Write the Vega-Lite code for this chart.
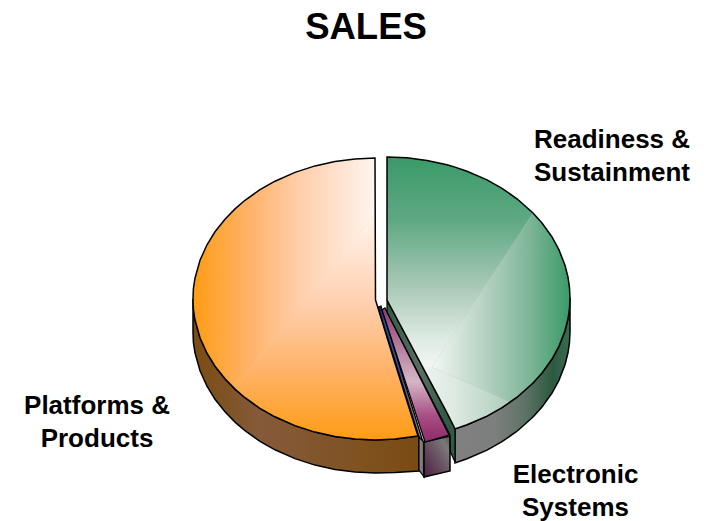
{
  "$schema": "https://vega.github.io/schema/vega-lite/v6.json",
  "width": 712,
  "height": 521,
  "padding": 0,
  "autosize": {"type": "none"},
  "background": "white",
  "config": {"view": {"stroke": null}},
  "title": {"text": "SALES", "font": "Liberation Sans", "fontSize": 36.5, "fontWeight": "bold", "color": "black", "anchor": "middle", "dx": 10, "offset": -75, "baseline": "alphabetic"},
  "datasets": {
    "platformsTop": [
      {"x":193,"y":299,"y2":299},{"x":193.4,"y":288.6,"y2":309.4},{"x":195,"y":278.2,"y2":319.8},{"x":200,"y":260.3,"y2":337.7},{"x":207,"y":244.8,"y2":353.2},{"x":215,"y":231.8,"y2":366.2},{"x":225,"y":219.2,"y2":378.8},{"x":235,"y":208.9,"y2":389.1},{"x":245,"y":200.3,"y2":397.7},{"x":260,"y":189.7,"y2":408.3},{"x":275,"y":181.2,"y2":416.8},{"x":295,"y":172.4,"y2":425.6},{"x":315,"y":165.9,"y2":432.1},{"x":335,"y":161.4,"y2":436.6},{"x":355,"y":158.9,"y2":439.1},{"x":375,"y":158,"y2":440},{"x":375.5,"y":300,"y2":440},{"x":395,"y":363.2,"y2":439.1},{"x":418,"y":436,"y2":436}
    ],
    "readinessTop": [
      {"x":387,"y":157,"y2":300},{"x":407,"y":157.8,"y2":337.6},{"x":427,"y":160.4,"y2":375.3},{"x":447,"y":164.8,"y2":412.9},{"x":455,"y":167.1,"y2":428.9},{"x":467,"y":171.2,"y2":424.8},{"x":487,"y":179.9,"y2":416.1},{"x":502,"y":188.3,"y2":407.7},{"x":517,"y":198.8,"y2":397.2},{"x":533,"y":213,"y2":383},{"x":542,"y":223,"y2":373},{"x":552,"y":237,"y2":359},{"x":559,"y":249.9,"y2":346.1},{"x":565,"y":265.3,"y2":330.7},{"x":568,"y":277.2,"y2":318.8},{"x":569.5,"y":287.6,"y2":308.4},{"x":570,"y":298,"y2":298}
    ]
  },
  "encoding": {
    "x": {"field": "x", "type": "quantitative", "scale": {"domain": [0, 712], "nice": false, "zero": false}, "axis": null},
    "y": {"field": "y", "type": "quantitative", "scale": {"domain": [0, 521], "reverse": true, "nice": false, "zero": false}, "axis": null}
  },
  "layer": [
    {
      "data": {"values": [
        {"x":193,"y":299,"y2":332},{"x":193.4,"y":309.4,"y2":342.4},{"x":195,"y":319.8,"y2":352.8},{"x":200,"y":337.7,"y2":370.7},{"x":207,"y":353.2,"y2":386.2},{"x":215,"y":366.2,"y2":399.2},{"x":225,"y":378.8,"y2":411.8},{"x":235,"y":389.1,"y2":422.1},{"x":245,"y":397.7,"y2":430.7},{"x":260,"y":408.3,"y2":441.3},{"x":275,"y":416.8,"y2":449.8},{"x":295,"y":425.6,"y2":458.6},{"x":315,"y":432.1,"y2":465.1},{"x":335,"y":436.6,"y2":469.6},{"x":355,"y":439.1,"y2":472.1},{"x":375,"y":440,"y2":473},{"x":395,"y":439.1,"y2":472.6},{"x":419,"y":436,"y2":471}
      ]},
      "mark": {"type": "area", "orient": "vertical", "stroke": "black", "strokeWidth": 1.5,
        "color": {"gradient": "linear", "x1": 0, "y1": 0, "x2": 1, "y2": 0, "stops": [
          {"offset": 0, "color": "#7b4c12"}, {"offset": 0.3, "color": "#855a3a"}, {"offset": 0.75, "color": "#7f5220"}, {"offset": 1, "color": "#7a4a12"}]}},
      "encoding": {"y2": {"field": "y2"}}
    },
    {
      "data": {"name": "platformsTop"},
      "mark": {"type": "area", "orient": "vertical", "color": "#ffc99c"},
      "encoding": {"y2": {"field": "y2"}}
    },
    {
      "data": {"values": [
        {"x":193,"y":299,"y2":299},{"x":193.4,"y":288.6,"y2":309.4},{"x":195,"y":278.2,"y2":319.8},{"x":200,"y":260.3,"y2":337.7},{"x":207,"y":244.8,"y2":353.2},{"x":215,"y":231.8,"y2":366.2},{"x":225,"y":219.2,"y2":378.8},{"x":235,"y":208.9,"y2":388.5},{"x":245,"y":200.3,"y2":375.4},{"x":260,"y":189.7,"y2":356.7},{"x":275,"y":181.2,"y2":338.1},{"x":295,"y":172.4,"y2":313.3},{"x":315,"y":165.9,"y2":288.4},{"x":335,"y":161.4,"y2":263.6},{"x":355,"y":158.9,"y2":238.7},{"x":375,"y":158,"y2":214}
      ]},
      "mark": {"type": "area", "orient": "vertical",
        "color": {"gradient": "linear", "x1": 0, "y1": 0, "x2": 1, "y2": 0, "stops": [
          {"offset": 0, "color": "#ff9c14"}, {"offset": 0.3, "color": "#ffb266"}, {"offset": 0.6, "color": "#ffcfae"}, {"offset": 1, "color": "#fff5ee"}]}},
      "encoding": {"y2": {"field": "y2"}}
    },
    {
      "data": {"values": [
        {"x":235,"y":388.5,"y2":389.1},{"x":245,"y":375.4,"y2":397.7},{"x":260,"y":356.7,"y2":408.3},{"x":275,"y":338.1,"y2":416.8},{"x":295,"y":313.3,"y2":425.6},{"x":315,"y":288.4,"y2":432.1},{"x":335,"y":263.6,"y2":436.6},{"x":355,"y":238.7,"y2":439.1},{"x":375,"y":214,"y2":440},{"x":375.5,"y":300,"y2":440},{"x":395,"y":363.2,"y2":439.1},{"x":418,"y":436,"y2":436}
      ]},
      "mark": {"type": "area", "orient": "vertical",
        "color": {"gradient": "linear", "x1": 0, "y1": 0, "x2": 0, "y2": 1, "stops": [
          {"offset": 0, "color": "#fff5ee"}, {"offset": 0.4, "color": "#ffcfae"}, {"offset": 0.7, "color": "#ffb266"}, {"offset": 1, "color": "#ff9c14"}]}},
      "encoding": {"y2": {"field": "y2"}}
    },
    {
      "data": {"name": "platformsTop"},
      "mark": {"type": "area", "orient": "vertical", "fillOpacity": 0, "stroke": "black", "strokeWidth": 1.5},
      "encoding": {"y2": {"field": "y2"}}
    },
    {
      "data": {"values": [
        {"x":378,"y":307,"y2":307},{"x":381,"y":306,"y2":316.5},{"x":419,"y":429,"y2":437},{"x":423,"y":442,"y2":442}
      ]},
      "mark": {"type": "area", "orient": "vertical", "stroke": "black", "strokeWidth": 1.2,
        "color": {"gradient": "linear", "x1": 0, "y1": 0, "x2": 0, "y2": 1, "stops": [
          {"offset": 0, "color": "#1a1a50"}, {"offset": 0.12, "color": "#2a4a9a"}, {"offset": 0.5, "color": "#3a4f9a"}, {"offset": 0.7, "color": "#6a6a80"}, {"offset": 1, "color": "#808080"}]}},
      "encoding": {"y2": {"field": "y2"}}
    },
    {
      "data": {"values": [
        {"x":419,"y":437,"y2":470},{"x":424,"y":442,"y2":477}
      ]},
      "mark": {"type": "area", "orient": "vertical", "stroke": "black", "strokeWidth": 1.2,
        "color": {"gradient": "linear", "x1": 0, "y1": 0, "x2": 1, "y2": 0, "stops": [
          {"offset": 0, "color": "#8c8c8c"}, {"offset": 1, "color": "#6a6a6a"}]}},
      "encoding": {"y2": {"field": "y2"}}
    },
    {
      "data": {"values": [
        {"x":424,"y":442,"y2":477},{"x":450,"y":436,"y2":471}
      ]},
      "mark": {"type": "area", "orient": "vertical", "stroke": "black", "strokeWidth": 1.5,
        "color": {"gradient": "linear", "x1": 0, "y1": 1, "x2": 1, "y2": 0, "stops": [
          {"offset": 0, "color": "#4a1f42"}, {"offset": 0.55, "color": "#6e5a68"}, {"offset": 0.8, "color": "#7a7a7a"}, {"offset": 1, "color": "#5f525c"}]}},
      "encoding": {"y2": {"field": "y2"}}
    },
    {
      "data": {"values": [
        {"x":382,"y":310,"y2":310},{"x":385,"y":308,"y2":319},{"x":425,"y":387.4,"y2":442},{"x":449,"y":435,"y2":435}
      ]},
      "mark": {"type": "area", "orient": "vertical", "stroke": "black", "strokeWidth": 1.2,
        "color": {"gradient": "linear", "x1": 0, "y1": 0, "x2": 0, "y2": 1, "stops": [
          {"offset": 0, "color": "#8f3a70"}, {"offset": 0.2, "color": "#a96a90"}, {"offset": 0.55, "color": "#d4b6c6"}, {"offset": 0.8, "color": "#a84f86"}, {"offset": 1, "color": "#8f2a68"}]}},
      "encoding": {"y2": {"field": "y2"}}
    },
    {
      "data": {"values": [
        {"x":455,"y":428.9,"y2":462.9},{"x":467,"y":424.8,"y2":458.8},{"x":487,"y":416.1,"y2":450.1},{"x":502,"y":407.7,"y2":441.7},{"x":517,"y":397.2,"y2":431.2},{"x":533,"y":383,"y2":417},{"x":542,"y":373,"y2":407},{"x":552,"y":359,"y2":393},{"x":559,"y":346.1,"y2":380.1},{"x":565,"y":330.7,"y2":364.7},{"x":568,"y":318.8,"y2":352.8},{"x":569.5,"y":308.4,"y2":342.4},{"x":570,"y":298,"y2":332}
      ]},
      "mark": {"type": "area", "orient": "vertical", "stroke": "black", "strokeWidth": 1.5,
        "color": {"gradient": "linear", "x1": 0, "y1": 0, "x2": 1, "y2": 0, "stops": [
          {"offset": 0, "color": "#808080"}, {"offset": 0.35, "color": "#7c7f7d"}, {"offset": 0.6, "color": "#5f7368"}, {"offset": 0.85, "color": "#2c5a40"}, {"offset": 1, "color": "#3a6c50"}]}},
      "encoding": {"y2": {"field": "y2"}}
    },
    {
      "data": {"values": [
        {"x":387,"y":300,"y2":312},{"x":450,"y":418.6,"y2":435},{"x":450.5,"y":419.5,"y2":452},{"x":455,"y":428,"y2":462}
      ]},
      "mark": {"type": "area", "orient": "vertical", "stroke": "black", "strokeWidth": 1.2,
        "color": {"gradient": "linear", "x1": 0, "y1": 0, "x2": 1, "y2": 0, "stops": [
          {"offset": 0, "color": "#2f5c44"}, {"offset": 0.5, "color": "#5a6e62"}, {"offset": 0.85, "color": "#2f5c44"}, {"offset": 1, "color": "#2f5c44"}]}},
      "encoding": {"y2": {"field": "y2"}}
    },
    {
      "data": {"name": "readinessTop"},
      "mark": {"type": "area", "orient": "vertical", "color": "#a5c7b3"},
      "encoding": {"y2": {"field": "y2"}}
    },
    {
      "data": {"values": [
        {"x":387,"y":157,"y2":300},{"x":407,"y":157.8,"y2":337.6},{"x":422.6,"y":159.8,"y2":367},{"x":427,"y":160.4,"y2":367},{"x":432,"y":161.3,"y2":367},{"x":447,"y":164.8,"y2":344.1},{"x":467,"y":171.2,"y2":313.6},{"x":487,"y":179.9,"y2":283.1},{"x":502,"y":188.3,"y2":260.3},{"x":517,"y":198.8,"y2":237.4},{"x":533,"y":213,"y2":213}
      ]},
      "mark": {"type": "area", "orient": "vertical",
        "color": {"gradient": "linear", "x1": 0, "y1": 0, "x2": 0, "y2": 1, "stops": [
          {"offset": 0, "color": "#3a9a68"}, {"offset": 0.3, "color": "#5fa884"}, {"offset": 0.6, "color": "#a5c7b3"}, {"offset": 0.85, "color": "#dbe8e0"}, {"offset": 1, "color": "#f2f7f4"}]}},
      "encoding": {"y2": {"field": "y2"}}
    },
    {
      "data": {"values": [
        {"x":432,"y":367,"y2":367},{"x":447,"y":344.1,"y2":373.8},{"x":467,"y":313.6,"y2":382.8},{"x":487,"y":283.1,"y2":391.8},{"x":502,"y":260.3,"y2":398.5},{"x":510,"y":248.1,"y2":402.4},{"x":517,"y":237.4,"y2":397.2},{"x":533,"y":213,"y2":383},{"x":542,"y":223,"y2":373},{"x":552,"y":237,"y2":359},{"x":559,"y":249.9,"y2":346.1},{"x":565,"y":265.3,"y2":330.7},{"x":568,"y":277.2,"y2":318.8},{"x":569.5,"y":287.6,"y2":308.4},{"x":570,"y":298,"y2":298}
      ]},
      "mark": {"type": "area", "orient": "vertical",
        "color": {"gradient": "linear", "x1": 0, "y1": 0, "x2": 1, "y2": 0, "stops": [
          {"offset": 0, "color": "#f2f7f4"}, {"offset": 0.15, "color": "#dbe8e0"}, {"offset": 0.4, "color": "#b3d0bf"}, {"offset": 0.7, "color": "#7fb699"}, {"offset": 1, "color": "#3a9a68"}]}},
      "encoding": {"y2": {"field": "y2"}}
    },
    {
      "data": {"values": [
        {"x":422.6,"y":367,"y2":367},{"x":432,"y":367,"y2":384.7},{"x":447,"y":373.8,"y2":412.9},{"x":455,"y":377.4,"y2":428.9},{"x":467,"y":382.8,"y2":424.8},{"x":487,"y":391.8,"y2":416.1},{"x":502,"y":398.5,"y2":407.7},{"x":510,"y":402.4,"y2":402.4}
      ]},
      "mark": {"type": "area", "orient": "vertical",
        "color": {"gradient": "linear", "x1": 0, "y1": 0, "x2": 1, "y2": 0, "stops": [
          {"offset": 0, "color": "#eef4f0"}, {"offset": 0.4, "color": "#dbe8e0"}, {"offset": 0.7, "color": "#c4dacc"}, {"offset": 1, "color": "#aecdb9"}]}},
      "encoding": {"y2": {"field": "y2"}}
    },
    {
      "data": {"name": "readinessTop"},
      "mark": {"type": "area", "orient": "vertical", "fillOpacity": 0, "stroke": "black", "strokeWidth": 1.5},
      "encoding": {"y2": {"field": "y2"}}
    },
    {
      "data": {"values": [
        {"label": "Readiness &\nSustainment", "x": 534, "y": 147.5}
      ]},
      "mark": {"type": "text", "align": "left", "baseline": "alphabetic", "font": "Liberation Sans", "fontSize": 26, "fontWeight": "bold", "color": "black", "lineBreak": "\n", "lineHeight": 33},
      "encoding": {"text": {"field": "label"}}
    },
    {
      "data": {"values": [
        {"label": "Platforms &\nProducts", "x": 97, "y": 414},
        {"label": "Electronic\nSystems", "x": 575.5, "y": 483}
      ]},
      "mark": {"type": "text", "align": "center", "baseline": "alphabetic", "font": "Liberation Sans", "fontSize": 26, "fontWeight": "bold", "color": "black", "lineBreak": "\n", "lineHeight": 33},
      "encoding": {"text": {"field": "label"}}
    }
  ]
}
